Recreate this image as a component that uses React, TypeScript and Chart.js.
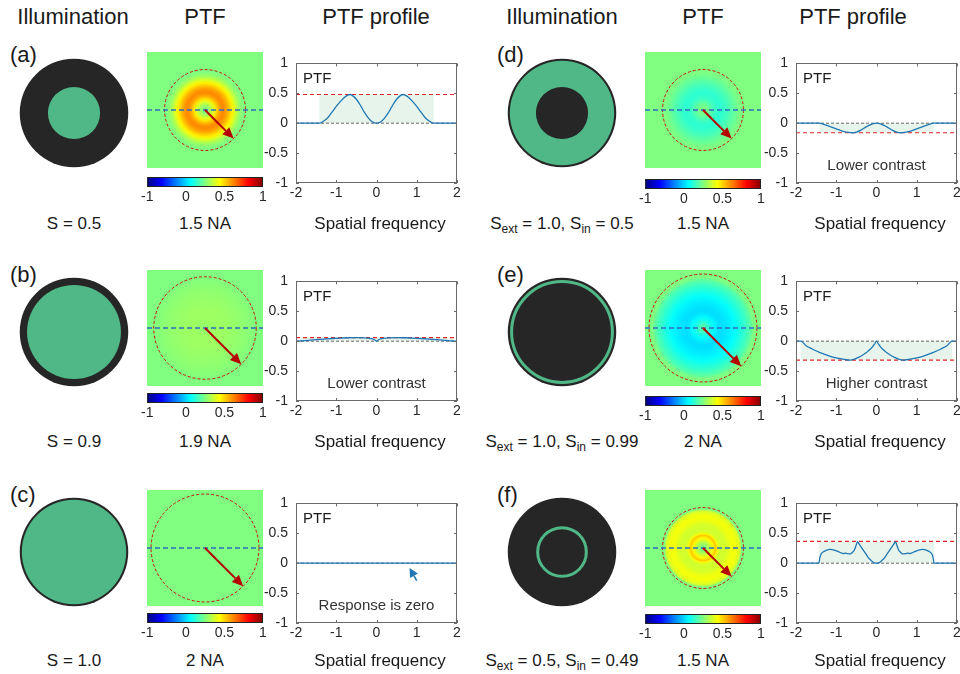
import React, { useEffect, useRef } from 'react';
import { Chart, registerables } from 'chart.js';

Chart.register(...registerables);

const FONT = "'Liberation Sans', Arial, Helvetica, sans-serif";

// ---------------- data ----------------
const columnHeaders = ['Illumination', 'PTF', 'PTF profile'];
const panelLabels = ['(a)', '(b)', '(c)', '(d)', '(e)', '(f)'];
const naLabels = ['1.5 NA', '1.9 NA', '2 NA', '1.5 NA', '2 NA', '1.5 NA'];
const objectiveNA = [1.5, 1.9, 2, 1.5, 2, 1.5];
const sigmaOuter = [0.5, 0.9, 1.0, 1.0, 1.0, 0.5];
const sigmaInner = [0, 0, 0, 0.5, 0.99, 0.49];
const sOuterText = ['0.5', '0.9', '1.0', '1.0', '1.0', '0.5'];
const sInnerText = ['', '', '', '0.5', '0.99', '0.49'];
const annotations = ['', 'Lower contrast', 'Response is zero', 'Lower contrast', 'Higher contrast', ''];
const supportEdge = [1.42, 1.9, 0, 1.42, 1.88, 1.43];
const peakLevel: (number | null)[] = [0.48, 0.06, null, -0.16, -0.315, 0.365];

const freqA = [0, 0.1, 0.2, 0.3, 0.4, 0.5, 0.6, 0.65, 0.7, 0.8, 0.9, 1.0, 1.1, 1.2, 1.3, 1.36, 1.42, 1.6, 2.0];
const ptfA = [0, 0.02, 0.085, 0.18, 0.3, 0.4, 0.465, 0.48, 0.475, 0.43, 0.36, 0.28, 0.19, 0.1, 0.04, 0.015, 0, 0, 0];

const freqB = [0, 0.05, 0.1, 0.2, 0.3, 0.5, 0.7, 0.9, 1.1, 1.3, 1.5, 1.7, 1.9, 2.0];
const ptfB = [0, 0.025, 0.04, 0.05, 0.055, 0.06, 0.058, 0.052, 0.045, 0.036, 0.026, 0.015, 0.003, 0];

const freqC = [0, 1.0, 2.0];
const ptfC = [0, 0, 0];

const freqD = [0, 0.1, 0.2, 0.3, 0.4, 0.5, 0.6, 0.7, 0.8, 0.9, 1.0, 1.1, 1.2, 1.3, 1.42, 1.6, 2.0];
const ptfD = [0, -0.01, -0.04, -0.08, -0.12, -0.15, -0.16, -0.155, -0.14, -0.12, -0.095, -0.07, -0.045, -0.02, 0, 0, 0];

const freqE = [0, 0.05, 0.1, 0.15, 0.2, 0.25, 0.35, 0.45, 0.55, 0.65, 0.8, 1.0, 1.2, 1.4, 1.6, 1.75, 1.88, 2.0];
const ptfE = [0, -0.05, -0.095, -0.13, -0.16, -0.19, -0.235, -0.27, -0.3, -0.315, -0.305, -0.28, -0.24, -0.19, -0.13, -0.075, 0, 0];

const freqF = [0, 0.07, 0.14, 0.2, 0.26, 0.32, 0.38, 0.43, 0.47, 0.51, 0.55, 0.6, 0.65, 0.72, 0.78, 0.82, 0.87, 0.95, 1.05, 1.15, 1.25, 1.32, 1.38, 1.41, 1.43, 1.6, 2.0];
const ptfF = [0, 0.01, 0.05, 0.09, 0.15, 0.21, 0.27, 0.32, 0.36, 0.29, 0.22, 0.18, 0.155, 0.16, 0.17, 0.16, 0.17, 0.195, 0.22, 0.23, 0.215, 0.19, 0.15, 0.08, 0, 0, 0];

const freqs = [freqA, freqB, freqC, freqD, freqE, freqF];
const ptfs = [ptfA, ptfB, ptfC, ptfD, ptfE, ptfF];

const xTicks = [-2, -1, 0, 1, 2];
const xTickLabels = ['-2', '-1', '0', '1', '2'];
const yTicks = [-1, -0.5, 0, 0.5, 1];
const yTickLabels = ['-1', '-0.5', '0', '0.5', '1'];
const cbTicks = [0, 1, 2, 3];
const cbTickLabels = ['-1', '0', '0.5', '1'];
const zeroArrowFrom = [1.0, -0.29];
const zeroArrowTo = [0.82, -0.08];

// ---------------- styles ----------------
const C = {
  text: '#1a1a1a',
  tick: '#262626',
  axis: '#6a6a6a',
  curve: '#1f77b4',
  red: '#e3262a',
  zero: '#666666',
  shade: '#e6f4ec',
  dark: '#262626',
  green: '#50b786',
  circle: '#c81010',
  hline: '#2d6cc0',
  arrow: '#b50000',
};

function jet(v: number) {
  const t = Math.max(0, Math.min(1, (v + 1) / 2));
  const c = (x: number) => Math.round(255 * Math.max(0, Math.min(1, 1.5 - Math.abs(x))));
  return `rgb(${c(4 * t - 3)},${c(4 * t - 2)},${c(4 * t - 1)})`;
}

const base = {
  animation: false,
  responsive: false,
  maintainAspectRatio: false,
  devicePixelRatio: 1,
  events: [],
  plugins: { legend: { display: false }, tooltip: { enabled: false } },
};

const hidden = (min: number, max: number) => ({ type: 'linear', display: false, min, max });

function drawArrow(ctx: CanvasRenderingContext2D, x0: number, y0: number, x1: number, y1: number, color: string, lw: number, hl: number, hw: number) {
  const a = Math.atan2(y1 - y0, x1 - x0);
  const bx = x1 - hl * Math.cos(a);
  const by = y1 - hl * Math.sin(a);
  ctx.save();
  ctx.strokeStyle = color;
  ctx.fillStyle = color;
  ctx.lineWidth = lw;
  ctx.setLineDash([]);
  ctx.beginPath();
  ctx.moveTo(x0, y0);
  ctx.lineTo(bx, by);
  ctx.stroke();
  ctx.beginPath();
  ctx.moveTo(x1, y1);
  ctx.lineTo(bx + hw * Math.sin(a), by - hw * Math.cos(a));
  ctx.lineTo(bx - hw * Math.sin(a), by + hw * Math.cos(a));
  ctx.closePath();
  ctx.fill();
  ctx.restore();
}

// ---------------- chart builders ----------------
function illumConfig(i: number) {
  return {
    type: 'scatter',
    data: { datasets: [{ data: [], pointRadius: 0 }] },
    options: { ...base, layout: { padding: 0 }, scales: { x: hidden(-1.15, 1.15), y: hidden(-1.15, 1.15) } },
    plugins: [
      {
        id: 'illum',
        afterDatasetsDraw(chart: any) {
          const ctx = chart.ctx as CanvasRenderingContext2D;
          const xs = chart.scales.x;
          const ys = chart.scales.y;
          const cx = xs.getPixelForValue(0);
          const cy = ys.getPixelForValue(0);
          const u = xs.getPixelForValue(1) - cx;
          ctx.save();
          ctx.fillStyle = C.dark;
          ctx.beginPath();
          ctx.arc(cx, cy, 1.04 * u, 0, Math.PI * 2);
          ctx.fill();
          const ro = sigmaOuter[i] * u;
          const ri = sigmaInner[i] * u;
          if (ri > 0 && ro - ri < 3) {
            ctx.strokeStyle = C.green;
            ctx.lineWidth = 3;
            ctx.beginPath();
            ctx.arc(cx, cy, (ro + ri) / 2 - 1.5, 0, Math.PI * 2);
            ctx.stroke();
          } else {
            ctx.fillStyle = C.green;
            ctx.beginPath();
            ctx.arc(cx, cy, ro, 0, Math.PI * 2);
            if (ri > 0) ctx.arc(cx, cy, ri, 0, Math.PI * 2, true);
            ctx.fill('evenodd');
          }
          ctx.restore();
        },
      },
    ],
  };
}

function imageConfig(i: number) {
  return {
    type: 'scatter',
    data: { datasets: [{ data: [], pointRadius: 0 }] },
    options: { ...base, layout: { padding: 0 }, scales: { x: hidden(-2.15, 2.15), y: hidden(-2.15, 2.15) } },
    plugins: [
      {
        id: 'ptfimage',
        afterDatasetsDraw(chart: any) {
          const ctx = chart.ctx as CanvasRenderingContext2D;
          const xs = chart.scales.x;
          const ys = chart.scales.y;
          const a = chart.chartArea;
          const cx = xs.getPixelForValue(0);
          const cy = ys.getPixelForValue(0);
          const fmax = freqs[i][freqs[i].length - 1];
          const R = xs.getPixelForValue(fmax) - cx;
          ctx.save();
          const g = ctx.createRadialGradient(cx, cy, 0, cx, cy, R);
          freqs[i].forEach((f, k) => g.addColorStop(f / fmax, jet(ptfs[i][k])));
          ctx.fillStyle = g;
          ctx.fillRect(a.left, a.top, a.right - a.left, a.bottom - a.top);
          // pupil circle
          const na = objectiveNA[i];
          const rp = xs.getPixelForValue(na) - cx;
          ctx.strokeStyle = C.circle;
          ctx.lineWidth = 1;
          ctx.setLineDash([3, 2]);
          ctx.beginPath();
          ctx.arc(cx, cy, rp, 0, Math.PI * 2);
          ctx.stroke();
          // profile line
          ctx.strokeStyle = C.hline;
          ctx.lineWidth = 1.5;
          ctx.setLineDash([5, 3]);
          ctx.beginPath();
          ctx.moveTo(a.left, cy);
          ctx.lineTo(a.right, cy);
          ctx.stroke();
          ctx.restore();
          const tx = xs.getPixelForValue(na * Math.SQRT1_2);
          const ty = ys.getPixelForValue(-na * Math.SQRT1_2);
          drawArrow(ctx, cx, cy, tx, ty, C.arrow, 2, 11, 5);
        },
      },
    ],
  };
}

function colorbarConfig() {
  return {
    type: 'scatter',
    data: { datasets: [{ data: [], pointRadius: 0 }] },
    options: {
      ...base,
      layout: { padding: { left: 8, right: 8, top: 0, bottom: 0 } },
      scales: {
        x: {
          type: 'linear',
          min: 0,
          max: 3,
          afterBuildTicks: (s: any) => {
            s.ticks = cbTicks.map((v) => ({ value: v }));
          },
          afterFit: (s: any) => {
            s.height = 20;
          },
          grid: { display: false, drawTicks: false },
          border: { display: false },
          ticks: {
            autoSkip: false,
            maxRotation: 0,
            padding: 2,
            color: C.tick,
            font: { family: FONT, size: 14 },
            callback: (v: number) => cbTickLabels[cbTicks.indexOf(v)],
          },
        },
        y: hidden(0, 1),
      },
    },
    plugins: [
      {
        id: 'cb',
        afterDatasetsDraw(chart: any) {
          const ctx = chart.ctx as CanvasRenderingContext2D;
          const a = chart.chartArea;
          const g = ctx.createLinearGradient(a.left, 0, a.right, 0);
          for (let k = 0; k <= 8; k++) g.addColorStop(k / 8, jet((2 * k) / 8 - 1));
          ctx.save();
          ctx.fillStyle = g;
          ctx.fillRect(a.left, a.top, a.right - a.left, a.bottom - a.top);
          ctx.strokeStyle = '#222';
          ctx.lineWidth = 1;
          ctx.strokeRect(a.left + 0.5, a.top + 0.5, a.right - a.left - 1, a.bottom - a.top - 1);
          ctx.restore();
        },
      },
    ],
  };
}

function profileConfig(i: number) {
  const f = freqs[i];
  const v = ptfs[i];
  const curve: { x: number; y: number }[] = [];
  for (let k = f.length - 1; k > 0; k--) curve.push({ x: -f[k], y: v[k] });
  for (let k = 0; k < f.length; k++) curve.push({ x: f[k], y: v[k] });
  const datasets: any[] = [
    { data: curve, showLine: true, borderColor: C.curve, borderWidth: 1.3, pointRadius: 0, cubicInterpolationMode: 'monotone' },
  ];
  const peak = peakLevel[i];
  if (peak !== null) {
    datasets.push({ data: [{ x: -2, y: peak }, { x: 2, y: peak }], showLine: true, borderColor: C.red, borderWidth: 1.2, borderDash: [4, 3], pointRadius: 0 });
  }
  datasets.push({ data: [{ x: -2, y: 0 }, { x: 2, y: 0 }], showLine: true, borderColor: C.zero, borderWidth: 1, borderDash: [3, 2], pointRadius: 0 });

  const tickFont = { family: FONT, size: 14 };
  return {
    type: 'scatter',
    data: { datasets },
    options: {
      ...base,
      layout: { padding: { top: 8, right: 6, left: 0, bottom: 0 } },
      scales: {
        x: {
          type: 'linear',
          min: -2,
          max: 2,
          afterBuildTicks: (s: any) => {
            s.ticks = xTicks.map((t) => ({ value: t }));
          },
          afterFit: (s: any) => {
            s.height = 26;
          },
          grid: { display: false, drawTicks: false },
          border: { display: false },
          ticks: { autoSkip: false, maxRotation: 0, padding: 2, color: C.tick, font: tickFont, callback: (t: number) => xTickLabels[xTicks.indexOf(t)] },
        },
        y: {
          type: 'linear',
          min: -1,
          max: 1,
          afterBuildTicks: (s: any) => {
            s.ticks = yTicks.map((t) => ({ value: t }));
          },
          afterFit: (s: any) => {
            s.width = 44;
          },
          grid: { display: false, drawTicks: false },
          border: { display: false },
          ticks: { autoSkip: false, padding: 8, color: C.tick, font: tickFont, callback: (t: number) => yTickLabels[yTicks.indexOf(t)] },
        },
      },
    },
    plugins: [
      {
        id: 'profile',
        beforeDatasetsDraw(chart: any) {
          if (peak === null) return;
          const ctx = chart.ctx as CanvasRenderingContext2D;
          const xs = chart.scales.x;
          const ys = chart.scales.y;
          const x0 = xs.getPixelForValue(-supportEdge[i]);
          const x1 = xs.getPixelForValue(supportEdge[i]);
          const y0 = ys.getPixelForValue(0);
          const y1 = ys.getPixelForValue(peak);
          ctx.save();
          ctx.fillStyle = C.shade;
          ctx.fillRect(x0, Math.min(y0, y1), x1 - x0, Math.abs(y1 - y0));
          ctx.restore();
        },
        afterDatasetsDraw(chart: any) {
          const ctx = chart.ctx as CanvasRenderingContext2D;
          const a = chart.chartArea;
          const xs = chart.scales.x;
          const ys = chart.scales.y;
          ctx.save();
          // box
          ctx.strokeStyle = C.axis;
          ctx.lineWidth = 1;
          ctx.setLineDash([]);
          ctx.strokeRect(Math.round(a.left) + 0.5, Math.round(a.top) + 0.5, Math.round(a.right - a.left) - 1, Math.round(a.bottom - a.top) - 1);
          ctx.beginPath();
          xTicks.forEach((t) => {
            const px = Math.round(xs.getPixelForValue(t)) + 0.5;
            ctx.moveTo(px, a.bottom);
            ctx.lineTo(px, a.bottom - 3);
            ctx.moveTo(px, a.top);
            ctx.lineTo(px, a.top + 3);
          });
          yTicks.forEach((t) => {
            const py = Math.round(ys.getPixelForValue(t)) + 0.5;
            ctx.moveTo(a.left, py);
            ctx.lineTo(a.left + 3, py);
            ctx.moveTo(a.right, py);
            ctx.lineTo(a.right - 3, py);
          });
          ctx.stroke();
          // labels
          ctx.fillStyle = C.text;
          ctx.font = `15px ${FONT}`;
          ctx.textBaseline = 'alphabetic';
          ctx.textAlign = 'left';
          ctx.fillText('PTF', a.left + 7, a.top + 20);
          if (annotations[i]) {
            ctx.fillStyle = '#333';
            ctx.textAlign = 'center';
            ctx.fillText(annotations[i], (a.left + a.right) / 2, a.top + 107);
          }
          ctx.restore();
          if (i === 2) {
            drawArrow(
              ctx,
              xs.getPixelForValue(zeroArrowFrom[0]),
              ys.getPixelForValue(zeroArrowFrom[1]),
              xs.getPixelForValue(zeroArrowTo[0]),
              ys.getPixelForValue(zeroArrowTo[1]),
              C.curve,
              1.6,
              9,
              4.5
            );
          }
        },
      },
    ],
  };
}

// ---------------- components ----------------
function ChartBox({ left, top, width, height, build }: { left: number; top: number; width: number; height: number; build: () => any }) {
  const ref = useRef<HTMLCanvasElement | null>(null);
  useEffect(() => {
    if (!ref.current) return;
    const chart = new Chart(ref.current, build());
    return () => chart.destroy();
  }, []);
  return <canvas ref={ref} width={width} height={height} style={{ position: 'absolute', left, top, width, height, display: 'block' }} />;
}

function T({ x, y, size, align = 'center', children, color }: { x: number; y: number; size: number; align?: string; children: any; color?: string }) {
  return (
    <div
      style={{
        position: 'absolute',
        left: x,
        top: y - 0.8465 * size,
        fontSize: size,
        lineHeight: `${size}px`,
        whiteSpace: 'nowrap',
        color: color || C.text,
        transform: align === 'center' ? 'translateX(-50%)' : undefined,
      }}
    >
      {children}
    </div>
  );
}

const layout = {
  illumCx: [74, 562],
  imgLeft: [147, 645],
  plotLeft: [296, 796],
  labelLeft: [10, 497],
  headerX: [
    [73, 205, 376],
    [562, 703, 853],
  ],
  imgTop: [52, 270, 490],
  plotTop: [55, 273, 495],
  illumCy: [113, 332, 552],
  capBase: [229, 447, 666],
  labelBase: [63, 283, 503],
  cbTop: [
    [177, 393, 613],
    [179, 396, 614],
  ],
};

function Row({ i }: { i: number }) {
  const col = i < 3 ? 0 : 1;
  const r = i % 3;
  const imgLeft = layout.imgLeft[col];
  const imgTop = layout.imgTop[r];
  const plotLeft = layout.plotLeft[col];
  const plotTop = layout.plotTop[r];
  const cx = layout.illumCx[col];
  const cy = layout.illumCy[r];
  const cb = layout.cbTop[col][r];
  const cap = layout.capBase[r];
  const sub = { fontSize: 12, position: 'relative' as const, top: 4 };
  return (
    <>
      <T x={layout.labelLeft[col]} y={layout.labelBase[r]} size={22} align="left">
        {panelLabels[i]}
      </T>
      <ChartBox left={cx - 60} top={cy - 60} width={120} height={120} build={() => illumConfig(i)} />
      <ChartBox left={imgLeft} top={imgTop} width={116} height={116} build={() => imageConfig(i)} />
      <ChartBox left={imgLeft - 8} top={cb} width={132} height={30} build={() => colorbarConfig()} />
      <ChartBox left={plotLeft - 44} top={plotTop - 8} width={211} height={162} build={() => profileConfig(i)} />
      <T x={cx} y={cap} size={17}>
        {sInnerText[i] ? (
          <>
            S<span style={sub}>ext</span> = {sOuterText[i]}, S<span style={sub}>in</span> = {sInnerText[i]}
          </>
        ) : (
          <>S = {sOuterText[i]}</>
        )}
      </T>
      <T x={imgLeft + 58} y={cap} size={17}>
        {naLabels[i]}
      </T>
      <T x={plotLeft + 84} y={cap} size={17}>
        Spatial frequency
      </T>
    </>
  );
}

export default function App() {
  return (
    <div
      style={{
        position: 'absolute',
        left: 0,
        top: 0,
        width: 960,
        height: 674,
        background: '#ffffff',
        fontFamily: FONT,
        overflow: 'hidden',
      }}
    >
      {[0, 1].map((col) =>
        columnHeaders.map((h, k) => (
          <T key={`${col}-${k}`} x={layout.headerX[col][k]} y={25} size={22}>
            {h}
          </T>
        ))
      )}
      {[0, 1, 2, 3, 4, 5].map((i) => (
        <Row key={i} i={i} />
      ))}
    </div>
  );
}
